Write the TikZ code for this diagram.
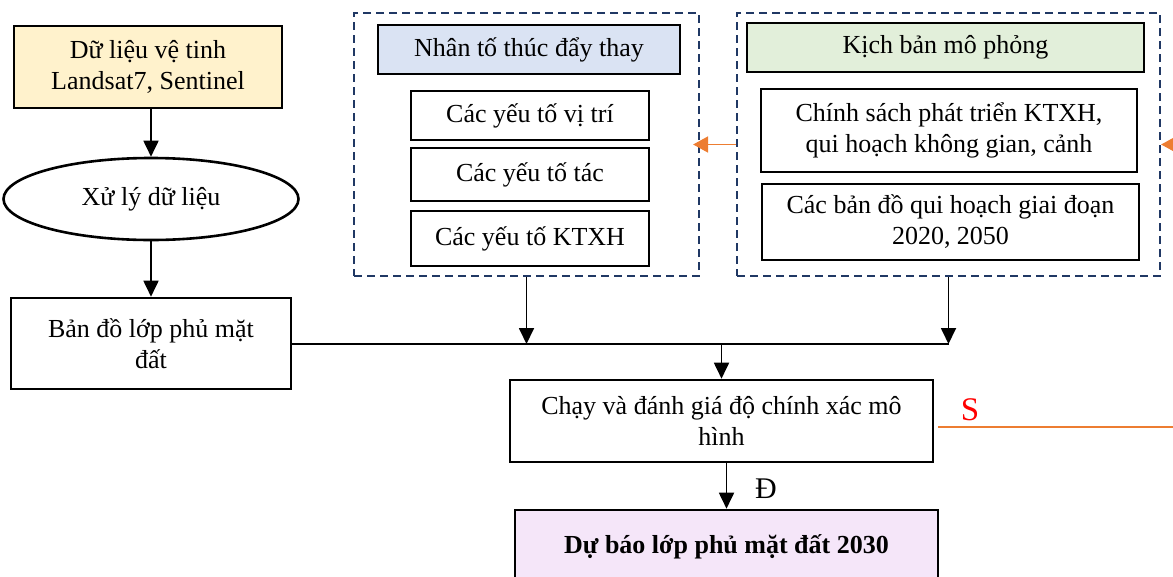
\documentclass[tikz,border=0pt]{standalone}
\usepackage{fontspec}
\setmainfont{Liberation Serif}
\usetikzlibrary{arrows.meta,shapes.geometric}

\definecolor{creamfill}{HTML}{FFF2CC}
\definecolor{bluefill}{HTML}{DAE3F3}
\definecolor{greenfill}{HTML}{E2EFDA}
\definecolor{purplefill}{HTML}{F5E6F9}
\definecolor{navy}{HTML}{203864}
\definecolor{orangeline}{HTML}{ED7D31}

\begin{document}
\begin{tikzpicture}
		[x=1pt,y=-1pt,
		every node/.style={font=\fontsize{26}{31}\selectfont,align=center,inner sep=0pt},
		box/.style={draw=black,line width=2.6pt},
		group/.style={draw=navy,line width=2.2pt,dash pattern=on 8pt off 5pt},
		flow/.style={line width=1.8pt,-{Triangle[length=16pt,width=15pt]}},
		back/.style={draw=orangeline,line width=1.8pt}]
		\useasboundingbox (0,0) rectangle (1173,576);

		% left column
		\node[box,fill=creamfill,minimum width=268pt,minimum height=82pt] (data) at (148,67) {Dữ liệu vệ tinh\\Landsat7, Sentinel};
		\node[box,ellipse,minimum width=295pt,minimum height=82pt] (proc) at (151,199) {Xử lý dữ liệu};
		\node[box,minimum width=280pt,minimum height=91pt] (lcmap) at (151,343.5) {Bản đồ lớp phủ mặt\\đất};

		% driving factors
		\node[group,minimum width=345pt,minimum height=263pt] (grpA) at (526.5,144.5) {};
		\node[box,fill=bluefill,minimum width=302pt,minimum height=49pt] (hdrA) at (529,49.5) {Nhân tố thúc đẩy thay};
		\node[box,minimum width=238pt,minimum height=49pt] (locA) at (530,115.5) {Các yếu tố vị trí};
		\node[box,minimum width=238pt,minimum height=53pt] (actA) at (530,174.5) {Các yếu tố tác};
		\node[box,minimum width=238pt,minimum height=55pt] (ecoA) at (530,238.5) {Các yếu tố KTXH};

		% scenarios
		\node[group,minimum width=423pt,minimum height=263pt] (grpB) at (948.5,144.5) {};
		\node[box,fill=greenfill,minimum width=397pt,minimum height=49pt] (hdrB) at (945.5,47.5) {Kịch bản mô phỏng};
		\node[box,minimum width=376pt,minimum height=83pt] (polB) at (949,130.5) {Chính sách phát triển KTXH,\\qui hoạch không gian, cảnh};
		\node[box,minimum width=377pt,minimum height=76pt] (mapB) at (950.5,222) {Các bản đồ qui hoạch giai đoạn\\2020, 2050};

		% model run and result
		\node[box,minimum width=423pt,minimum height=82pt] (run) at (721.5,421) {Chạy và đánh giá độ chính xác mô\\hình};
		\node[box,fill=purplefill,minimum width=423pt,minimum height=74pt,font=\fontsize{26}{31}\selectfont\bfseries] (pred) at (726.5,547) {Dự báo lớp phủ mặt đất 2030};

		\coordinate (joinA) at (526.5,344);
		\coordinate (joinM) at (721.5,344);
		\coordinate (joinB) at (948.5,344);
		\coordinate (loopR) at (1195,427);

		\draw[flow] (proc.north |- data.south) -- (proc);
		\draw[flow] (proc) -- (lcmap);
		\draw[line width=1.8pt] (lcmap.east |- joinA) -- (joinB);
		\draw[flow] (grpA) -- (joinA);
		\draw[flow] (grpB) -- (joinB);
		\draw[flow] (joinM) -- (run);
		\draw[flow] (pred.north |- run.south) -- (pred.north);
		\node[font=\fontsize{30}{36}\selectfont] (yes) at (766,489) {Đ};

		\draw[back] ([xshift=4pt]run.east |- loopR) -- (loopR);
		\node[font=\fontsize{33}{40}\selectfont,text=red] (no) at (970,410) {S};
		\draw[back,-{Triangle[length=15pt,width=16pt]}] (loopR) |- (grpB.east);
		\draw[back,-{Triangle[length=15pt,width=16pt]},shorten >=-7pt] (grpB.west) -- (grpA.east);
\end{tikzpicture}
\end{document}
